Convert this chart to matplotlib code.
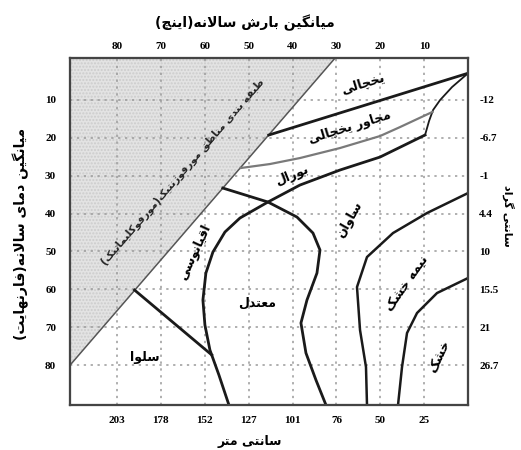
import matplotlib
matplotlib.use("Agg")
import matplotlib.pyplot as plt

# Persian letters -> presentation forms (isolated, final, initial, medial)
FORMS = {
    'ا': ('\uFE8D', '\uFE8E'), 'آ': ('\uFE81', '\uFE82'),
    'ب': ('\uFE8F', '\uFE90', '\uFE91', '\uFE92'),
    'پ': ('\uFB56', '\uFB57', '\uFB58', '\uFB59'),
    'ت': ('\uFE95', '\uFE96', '\uFE97', '\uFE98'),
    'ث': ('\uFE99', '\uFE9A', '\uFE9B', '\uFE9C'),
    'ج': ('\uFE9D', '\uFE9E', '\uFE9F', '\uFEA0'),
    'چ': ('\uFB7A', '\uFB7B', '\uFB7C', '\uFB7D'),
    'ح': ('\uFEA1', '\uFEA2', '\uFEA3', '\uFEA4'),
    'خ': ('\uFEA5', '\uFEA6', '\uFEA7', '\uFEA8'),
    'د': ('\uFEA9', '\uFEAA'), 'ذ': ('\uFEAB', '\uFEAC'),
    'ر': ('\uFEAD', '\uFEAE'), 'ز': ('\uFEAF', '\uFEB0'),
    'ژ': ('\uFB8A', '\uFB8B'),
    'س': ('\uFEB1', '\uFEB2', '\uFEB3', '\uFEB4'),
    'ش': ('\uFEB5', '\uFEB6', '\uFEB7', '\uFEB8'),
    'ص': ('\uFEB9', '\uFEBA', '\uFEBB', '\uFEBC'),
    'ض': ('\uFEBD', '\uFEBE', '\uFEBF', '\uFEC0'),
    'ط': ('\uFEC1', '\uFEC2', '\uFEC3', '\uFEC4'),
    'ظ': ('\uFEC5', '\uFEC6', '\uFEC7', '\uFEC8'),
    'ع': ('\uFEC9', '\uFECA', '\uFECB', '\uFECC'),
    'غ': ('\uFECD', '\uFECE', '\uFECF', '\uFED0'),
    'ف': ('\uFED1', '\uFED2', '\uFED3', '\uFED4'),
    'ق': ('\uFED5', '\uFED6', '\uFED7', '\uFED8'),
    '\u06A9': ('\uFB8E', '\uFB8F', '\uFB90', '\uFB91'),
    '\u0643': ('\uFED9', '\uFEDA', '\uFEDB', '\uFEDC'),
    'گ': ('\uFB92', '\uFB93', '\uFB94', '\uFB95'),
    'ل': ('\uFEDD', '\uFEDE', '\uFEDF', '\uFEE0'),
    'م': ('\uFEE1', '\uFEE2', '\uFEE3', '\uFEE4'),
    'ن': ('\uFEE5', '\uFEE6', '\uFEE7', '\uFEE8'),
    'و': ('\uFEED', '\uFEEE'),
    'ه': ('\uFEE9', '\uFEEA', '\uFEEB', '\uFEEC'),
    '\u06CC': ('\uFBFC', '\uFBFD', '\uFBFE', '\uFBFF'),
    '\u064A': ('\uFBFC', '\uFBFD', '\uFBFE', '\uFBFF'),
}
MIRROR = {'(': ')', ')': '('}


def fa(text):
    # join letters and put them in visual (right-to-left) order
    out = []
    i = 0
    while i < len(text):
        c = text[i]
        prev = text[i - 1] if i > 0 else ''
        joins_prev = prev in FORMS and len(FORMS[prev]) == 4
        if c not in FORMS:
            out.append(MIRROR.get(c, c))
            i += 1
            continue
        if c == 'ل' and i + 1 < len(text) and text[i + 1] == 'ا':
            out.append('\uFEFC' if joins_prev else '\uFEFB')
            i += 2
            continue
        nxt = text[i + 1] if i + 1 < len(text) else ''
        forms = FORMS[c]
        joins_next = len(forms) == 4 and nxt in FORMS
        if joins_prev and joins_next:
            out.append(forms[3])
        elif joins_prev:
            out.append(forms[1])
        elif joins_next:
            out.append(forms[2])
        else:
            out.append(forms[0])
        i += 1
    return ''.join(reversed(out))


# axes values
precip_in = [10, 20, 30, 40, 50, 60, 70, 80]
precip_cm = ['25', '50', '76', '101', '127', '152', '178', '203']
temp_f = [10, 20, 30, 40, 50, 60, 70, 80]
temp_c = ['-12', '-6.7', '-1', '4.4', '10', '15.5', '21', '26.7']

# region boundaries (precipitation in inches, temperature in F)
diag_x = [30.3, 90.7]
diag_t = [-1, 80]

frigid_x = [0, 45.4]
frigid_t = [3.0, 19.3]

edge_x = [0, 3.65, 6.38, 7.98, 8.89, 9.80]
edge_t = [3.0, 6.65, 10.08, 12.71, 15.61, 19.30]

perig_x = [8.1, 15.5, 20.06, 29.18, 38.30, 45.14, 51.8]
perig_t = [13.2, 17.2, 19.57, 22.73, 25.37, 26.95, 28.0]

boreal_x = [9.80, 20.06, 29.18, 38.30, 45.60, 51.98, 55.40, 58.14, 59.74,
            60.42, 59.96, 58.82, 56.77, 54.49]
boreal_t = [19.30, 25.11, 28.53, 32.49, 36.97, 41.19, 44.88, 50.16, 55.70,
            62.82, 69.41, 76.00, 82.59, 90.5]

moder_x = [55.9, 45.60, 38.99, 35.34, 33.74, 34.43, 36.71, 38.08, 36.94,
           34.66, 32.38]
moder_t = [33.28, 36.97, 40.93, 45.15, 49.63, 55.70, 62.82, 68.88, 76.79,
           83.91, 90.5]

savanna_x = [0, 9.35, 17.10, 23.03, 25.31, 24.62, 23.26, 23.03]
savanna_t = [34.60, 39.87, 45.15, 51.48, 59.39, 70.73, 80.48, 90.5]

semiarid_x = [0, 7.07, 11.63, 13.91, 15.05, 15.96]
semiarid_t = [57.01, 60.97, 66.24, 71.52, 80.48, 90.5]

selva_x = [76.0, 58.4]
selva_t = [60.18, 77.3]

# region names
regions = ['یخچالی', 'مجاور یخچالی', 'بورال', 'ساوان', 'نیمه خشک',
           'خشک', 'معتدل', 'سلوا', 'اقیانوسی']
region_x = [23.9, 26.9, 40.1, 26.9, 13.9, 6.4, 48.1, 73.6, 62.2]
region_t = [5.6, 17.2, 29.9, 41.7, 58.3, 77.8, 63.6, 78.1, 50.2]
region_rot = [17, 17, 22, 60, 55, 65, 0, 0, 65]

fig = plt.figure(figsize=(5.21, 4.5), dpi=100)
ax = fig.add_axes([0.1344, 0.1, 0.764, 0.771])
ax.set_xlim(90.7, 0)
ax.set_ylim(90.5, -1)

# shaded corner
ax.fill([diag_x[0], 90.7, diag_x[1]], [-1, -1, diag_t[1]],
        facecolor='#e3e3e3', edgecolor='#cccccc', hatch='.....',
        linewidth=0, zorder=0)

for v in precip_in:
    ax.axvline(v, color='#9a9a9a', lw=1.1, ls=(0, (1.5, 3)), zorder=1)
for v in temp_f:
    ax.axhline(v, color='#9a9a9a', lw=1.1, ls=(0, (1.5, 3)), zorder=1)

ax.plot(diag_x, diag_t, color='#555555', lw=1.1, zorder=3)
ax.plot(frigid_x, frigid_t, color='#1a1a1a', lw=2.0, zorder=4)
ax.plot(edge_x, edge_t, color='#1a1a1a', lw=1.3, zorder=4)
ax.plot(perig_x, perig_t, color='#7a7a7a', lw=1.6, zorder=4)
ax.plot(boreal_x, boreal_t, color='#1a1a1a', lw=2.0, zorder=4,
        solid_joinstyle='round')
ax.plot(moder_x, moder_t, color='#1a1a1a', lw=2.0, zorder=4,
        solid_joinstyle='round')
ax.plot(savanna_x, savanna_t, color='#1a1a1a', lw=1.8, zorder=4,
        solid_joinstyle='round')
ax.plot(semiarid_x, semiarid_t, color='#1a1a1a', lw=1.8, zorder=4,
        solid_joinstyle='round')
ax.plot(selva_x, selva_t, color='#1a1a1a', lw=2.0, zorder=4)

for name, x, t, r in zip(regions, region_x, region_t, region_rot):
    ax.text(x, t, fa(name), rotation=r, ha='center', va='center',
            fontsize=9, fontweight='bold', family='DejaVu Sans', zorder=5)

ax.text(65.0, 29.1, fa('طبقه بندی مناطق مورفوژنتیک(مورفوکلیماتیک)'),
        rotation=49, ha='center', va='center', fontsize=7.5,
        fontweight='bold', family='DejaVu Sans', color='#222222', zorder=5)

num_font = dict(family='Liberation Serif', fontweight='bold', fontsize=8)

bottom = ax.twiny()
right = ax.twinx()

# top: inches
ax.xaxis.tick_top()
ax.set_xticks(precip_in)
ax.set_xticklabels([str(v) for v in precip_in], **num_font)
ax.tick_params(axis='x', length=0, pad=5)
ax.set_yticks(temp_f)
ax.set_yticklabels([str(v) for v in temp_f], **num_font)
ax.tick_params(axis='y', length=0, pad=10)

# bottom: centimetres
bottom.set_xlim(ax.get_xlim())
bottom.xaxis.tick_bottom()
bottom.set_xticks(precip_in)
bottom.set_xticklabels(precip_cm, **num_font)
bottom.tick_params(length=0, pad=8)

# right: celsius
right.set_ylim(ax.get_ylim())
right.yaxis.tick_right()
right.set_yticks(temp_f)
right.set_yticklabels(temp_c, **num_font)
right.tick_params(length=0, pad=8)

for a in (ax, bottom, right):
    for s in a.spines.values():
        s.set_color('#444444')
        s.set_linewidth(1.5)

fig.text(0.47, 0.95, fa('میانگین بارش سالانه(اینچ)'), ha='center',
         va='center', fontsize=10, fontweight='bold', family='DejaVu Sans')
fig.text(0.04, 0.48, fa('میانگین دمای سالانه(فارنهایت)'), rotation=90,
         ha='center', va='center', fontsize=10, fontweight='bold',
         family='DejaVu Sans')
fig.text(0.48, 0.02, fa('سانتی متر'), ha='center', va='center',
         fontsize=9, fontweight='bold', family='DejaVu Sans')
fig.text(0.975, 0.52, fa('سانتی گراد'), rotation=-90, ha='center',
         va='center', fontsize=8, fontweight='bold', family='DejaVu Sans')

fig.savefig('out.png', dpi=100)
